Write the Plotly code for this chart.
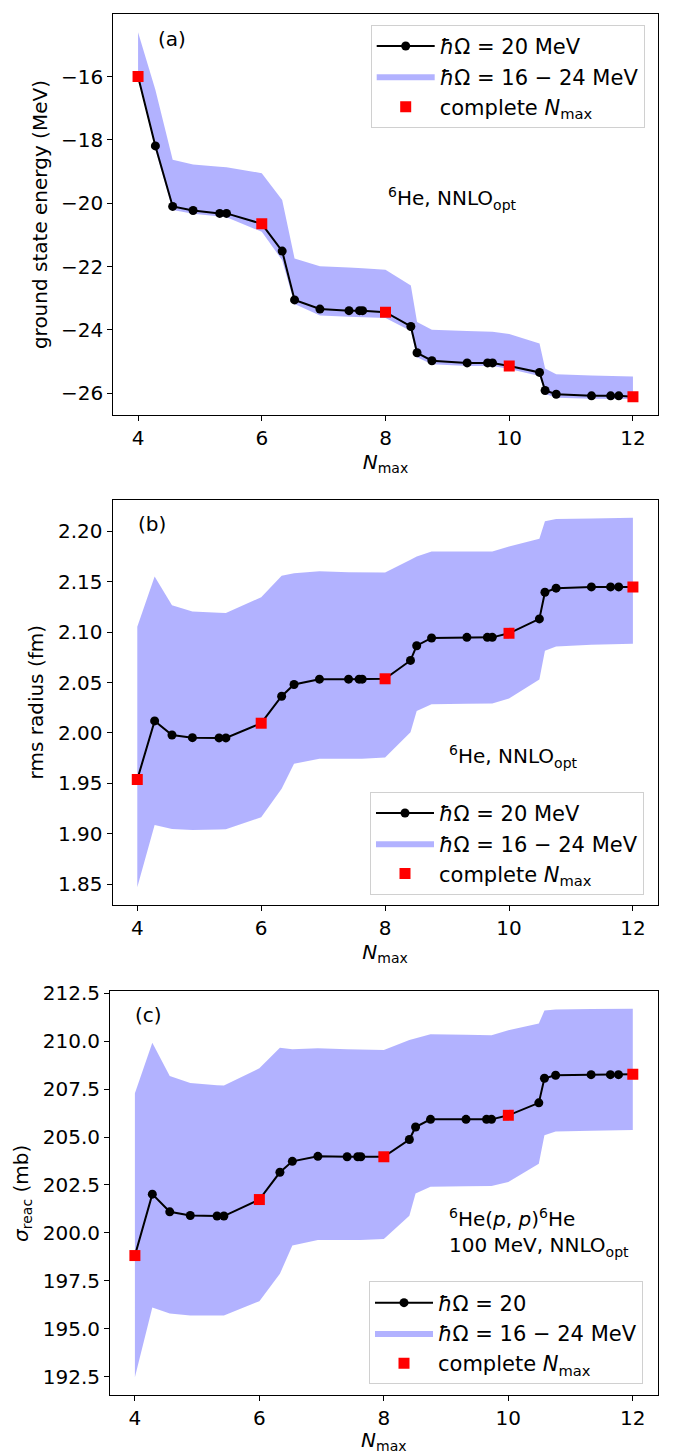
import plotly.graph_objects as go

# ---------------- data ----------------
nmax = [4, 4.28, 4.56, 4.89, 5.32, 5.43, 6, 6.33, 6.53, 6.94, 7.41, 7.58, 7.63, 8,
        8.41, 8.51, 8.75, 9.32, 9.65, 9.73, 10, 10.49, 10.58, 10.76, 11.33, 11.64, 11.77, 12]

energy = [-16.0, -18.19, -20.10, -20.23, -20.32, -20.32, -20.65, -21.51, -23.05, -23.34,
          -23.39, -23.39, -23.39, -23.44, -23.89, -24.72, -24.97, -25.04, -25.04, -25.04,
          -25.14, -25.34, -25.91, -26.03, -26.08, -26.08, -26.08, -26.11]
energy_hi = [-14.6, -16.42, -18.63, -18.78, -18.85, -18.86, -19.05, -19.9, -21.74, -21.99,
             -22.03, -22.04, -22.05, -22.1, -22.6, -23.75, -23.99, -24.03, -24.05, -24.06,
             -24.13, -24.43, -25.22, -25.4, -25.44, -25.46, -25.46, -25.47]
energy_lo = [-16.05, -18.3, -20.21, -20.33, -20.42, -20.44, -20.9, -21.8, -23.18, -23.54,
             -23.58, -23.59, -23.59, -23.62, -24.03, -24.86, -25.08, -25.14, -25.14, -25.14,
             -25.23, -25.45, -26.02, -26.14, -26.17, -26.17, -26.17, -26.18]

radius = [1.9538, 2.0119, 1.9979, 1.9953, 1.9950, 1.9950, 2.0096, 2.0364, 2.0480, 2.0533,
          2.0533, 2.0533, 2.0533, 2.0537, 2.0719, 2.0865, 2.0942, 2.0948, 2.0948, 2.0948,
          2.0988, 2.1131, 2.1396, 2.1436, 2.1449, 2.1449, 2.1449, 2.1449]
radius_hi = [2.1054, 2.1552, 2.1267, 2.1204, 2.1192, 2.1190, 2.1346, 2.1559, 2.1585, 2.1605,
             2.1595, 2.1594, 2.1593, 2.1592, 2.1718, 2.1750, 2.1800, 2.1800, 2.1800, 2.1800,
             2.1850, 2.1927, 2.2100, 2.2123, 2.2128, 2.2132, 2.2134, 2.2136]
radius_lo = [1.8467, 1.9087, 1.9047, 1.9037, 1.9042, 1.9044, 1.9163, 1.9445, 1.9694, 1.9744,
             1.9744, 1.9744, 1.9744, 1.9757, 2.0006, 2.0218, 2.0285, 2.0289, 2.0291, 2.0291,
             2.0341, 2.0530, 2.0815, 2.0858, 2.0875, 2.0880, 2.0883, 2.0885]

sigma = [198.82, 202.02, 201.10, 200.91, 200.88, 200.88, 201.74, 203.16, 203.73, 203.99,
         203.97, 203.97, 203.97, 203.97, 204.87, 205.52, 205.92, 205.92, 205.92, 205.92,
         206.13, 206.78, 208.06, 208.22, 208.25, 208.25, 208.25, 208.27]
sigma_hi = [207.28, 209.91, 208.18, 207.82, 207.70, 207.68, 208.58, 209.65, 209.58, 209.63,
            209.57, 209.55, 209.55, 209.53, 210.05, 210.13, 210.36, 210.33, 210.31, 210.31,
            210.57, 210.91, 211.60, 211.65, 211.67, 211.68, 211.68, 211.69]
sigma_lo = [192.48, 196.11, 195.80, 195.70, 195.70, 195.70, 196.44, 197.87, 199.34, 199.63,
            199.63, 199.63, 199.63, 199.68, 200.89, 202.05, 202.40, 202.43, 202.45, 202.45,
            202.66, 203.60, 205.09, 205.28, 205.33, 205.35, 205.36, 205.37]

complete_nmax = [4, 6, 8, 10, 12]

# ---------------- styling ----------------
W, H = 678, 1454
FONT = "DejaVu Sans"
FS = 20
LFS = 21
BAND = "rgba(0,0,255,0.3)"
HB = "<i>ħ</i>Ω"


def pick(ys):
    return [y for x, y in zip(nmax, ys) if x in complete_nmax]


fig = go.Figure()

panels = [
    dict(ax="", y=energy, lo=energy_lo, hi=energy_hi, leg="legend",
         line_name=f"{HB} = 20 MeV"),
    dict(ax="2", y=radius, lo=radius_lo, hi=radius_hi, leg="legend2",
         line_name=f"{HB} = 20 MeV"),
    dict(ax="3", y=sigma, lo=sigma_lo, hi=sigma_hi, leg="legend3",
         line_name=f"{HB} = 20"),
]

for p in panels:
    xa, ya = "x" + p["ax"], "y" + p["ax"]
    fig.add_trace(go.Scatter(x=nmax, y=p["lo"], mode="lines", line=dict(width=0, color=BAND),
                             showlegend=False, hoverinfo="skip", xaxis=xa, yaxis=ya))
    fig.add_trace(go.Scatter(x=nmax, y=p["hi"], mode="lines", line=dict(width=0, color=BAND),
                             fill="tonexty", fillcolor=BAND,
                             name=f"{HB} = 16 − 24 MeV", legend=p["leg"], legendrank=2,
                             xaxis=xa, yaxis=ya))
    fig.add_trace(go.Scatter(x=nmax, y=p["y"], mode="lines+markers",
                             line=dict(color="black", width=2),
                             marker=dict(color="black", size=9),
                             name=p["line_name"], legend=p["leg"], legendrank=1,
                             xaxis=xa, yaxis=ya))
    fig.add_trace(go.Scatter(x=complete_nmax, y=pick(p["y"]), mode="markers",
                             marker=dict(color="red", size=11, symbol="square"),
                             name="complete <i>N</i><sub>max</sub>", legend=p["leg"], legendrank=3,
                             xaxis=xa, yaxis=ya))


def xdom(l, r):
    return [l / W, r / W]


def ydom(t, b):
    return [1 - b / H, 1 - t / H]


axis_common = dict(showline=True, linecolor="black", linewidth=1, mirror=True,
                   ticks="outside", ticklen=5, tickwidth=1, tickcolor="black",
                   showgrid=False, zeroline=False,
                   tickfont=dict(family=FONT, size=FS, color="black"))

xt = dict(tickmode="array", tickvals=[4, 6, 8, 10, 12], range=[3.6, 12.4],
          title=dict(text="<i>N</i><sub>max</sub>", font=dict(family=FONT, size=FS, color="black"),
                     standoff=4))

leg_common = dict(font=dict(family=FONT, size=LFS, color="black"), bgcolor="rgba(255,255,255,0.8)",
                  bordercolor="#d0d0d0", borderwidth=1, itemwidth=58, traceorder="normal")

fig.update_layout(
    width=W, height=H, margin=dict(l=0, r=0, t=0, b=0),
    paper_bgcolor="white", plot_bgcolor="white",
    font=dict(family=FONT, size=FS, color="black"),
    xaxis=dict(domain=xdom(113.3, 657.7), anchor="y", **axis_common, **xt),
    yaxis=dict(domain=ydom(4, 408), anchor="x", range=[-26.69, -14.025],
               tickmode="array", tickvals=[-26, -24, -22, -20, -18, -16],
               title=dict(text="ground state energy (MeV)", standoff=8,
                          font=dict(family=FONT, size=FS, color="black")), **axis_common),
    xaxis2=dict(domain=xdom(112.5, 657.7), anchor="y2", **axis_common, **xt),
    yaxis2=dict(domain=ydom(493, 901), anchor="x2", range=[1.8294, 2.2315],
                tickmode="linear", tick0=1.85, dtick=0.05, tickformat=".2f",
                title=dict(text="rms radius (fm)", standoff=8,
                           font=dict(family=FONT, size=FS, color="black")), **axis_common),
    xaxis3=dict(domain=xdom(110, 657.7), anchor="y3", **axis_common, **xt),
    yaxis3=dict(domain=ydom(988, 1395), anchor="x3", range=[191.53, 212.6],
                tickmode="linear", tick0=192.5, dtick=2.5, tickformat=".1f",
                title=dict(text="<i>σ</i><sub>reac</sub> (mb)", standoff=8,
                           font=dict(family=FONT, size=FS, color="black")), **axis_common),
    legend=dict(x=370.7 / W, y=1 - 15 / H, xanchor="left", yanchor="top", **leg_common),
    legend2=dict(x=370 / W, y=1 - 891 / H, xanchor="left", yanchor="bottom", **leg_common),
    legend3=dict(x=369 / W, y=1 - 1384 / H, xanchor="left", yanchor="bottom", **leg_common),
    showlegend=True,
)

ann = [
    dict(text="(a)", xref="x domain", yref="y domain", x=0.108, y=0.938),
    dict(text="<sup>6</sup>He, NNLO<sub>opt</sub>", xref="x domain", yref="y domain",
         x=0.501, y=0.54, xanchor="left"),
    dict(text="(b)", xref="x2 domain", yref="y2 domain", x=0.0725, y=0.939),
    dict(text="<sup>6</sup>He, NNLO<sub>opt</sub>", xref="x2 domain", yref="y2 domain",
         x=0.6135, y=0.365, xanchor="left"),
    dict(text="(c)", xref="x3 domain", yref="y3 domain", x=0.071, y=0.941),
    dict(text="<sup>6</sup>He(<i>p</i>, <i>p</i>)<sup>6</sup>He<br>100 MeV, NNLO<sub>opt</sub>",
         xref="x3 domain", yref="y3 domain", x=0.615, y=0.404, xanchor="left", align="left"),
]
for a in ann:
    a.setdefault("xanchor", "center")
    a.update(yanchor="middle", showarrow=False, font=dict(family=FONT, size=FS, color="black"))
    fig.add_annotation(**a)

fig.write_html("out.html")
